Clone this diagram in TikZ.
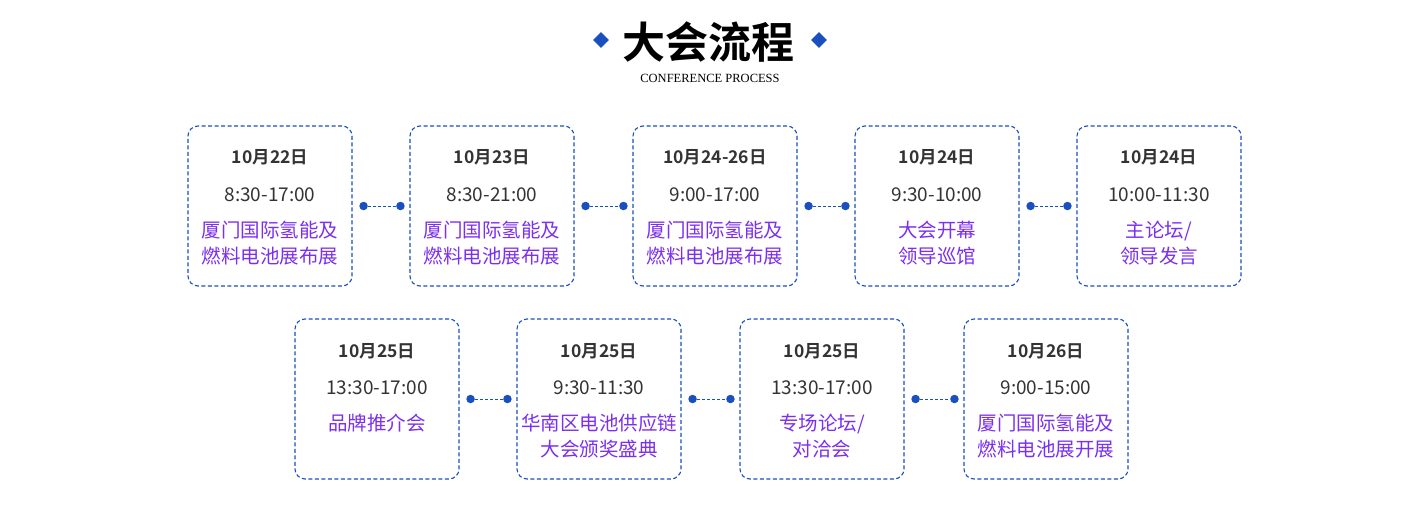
\documentclass[tikz,border=0pt]{standalone}
\usepackage{fontspec}
\setmainfont{Liberation Serif}
\newfontfamily\cjk{Noto Sans CJK SC}
\newfontfamily\cjkbold{Noto Sans CJK SC Bold}
\usetikzlibrary{positioning}
\definecolor{dotblue}{HTML}{1A4FBF}
\definecolor{eventviolet}{HTML}{7B2FF0}
\definecolor{textgray}{HTML}{333333}
\tikzset{day box/.style={draw=dotblue, line width=1.1pt, dash pattern=on 4pt off 2.5pt, rounded corners=10pt, minimum width=164pt, minimum height=160pt},
  date/.style={font=\cjkbold\fontsize{17.5}{17.5}\selectfont, text=textgray},
  time/.style={font=\cjk\fontsize{19}{19}\selectfont, text=textgray},
  event/.style={font=\cjk\fontsize{19.5}{26}\selectfont, text=eventviolet, align=center},
  dot/.style={circle, fill=dotblue, inner sep=0pt, minimum size=8.5pt},}

\begin{document}
\begin{tikzpicture}[x=1pt, y=-1pt]
        \useasboundingbox (0,0) rectangle (1420,509);
        % Title
        \node[font=\cjkbold\fontsize{43}{43}\selectfont] (title) at (708,42) {大会流程};
        \node[font=\fontsize{12.5}{12.5}\selectfont, text=black] (sub) at (710,78) {CONFERENCE PROCESS};
        \node[fill=dotblue, rotate=45, minimum size=11pt, inner sep=0pt] (dl) at (601,40) {};
        \node[fill=dotblue, rotate=45, minimum size=11pt, inner sep=0pt] (dr) at (819,40) {};
        % Row 1
        \node[day box] (b1) at (270,206) {};
        \node[day box] (b2) at (492,206) {};
        \node[day box] (b3) at (715,206) {};
        \node[day box] (b4) at (937,206) {};
        \node[day box] (b5) at (1159,206) {};
        \node[date] at (270,157) {10月22日};
        \node[time] at (270,195) {8:30-17:00};
        \node[event] at (270,243) {厦门国际氢能及\\燃料电池展布展};
        \node[date] at (492,157) {10月23日};
        \node[time] at (492,195) {8:30-21:00};
        \node[event] at (492,243) {厦门国际氢能及\\燃料电池展布展};
        \node[date] at (715,157) {10月24-26日};
        \node[time] at (715,195) {9:00-17:00};
        \node[event] at (715,243) {厦门国际氢能及\\燃料电池展布展};
        \node[date] at (937,157) {10月24日};
        \node[time] at (937,195) {9:30-10:00};
        \node[event] at (937,243) {大会开幕\\领导巡馆};
        \node[date] at (1159,157) {10月24日};
        \node[time] at (1159,195) {10:00-11:30};
        \node[event] at (1159,243) {主论坛/\\领导发言};
        % Row 2
        \node[day box] (c1) at (377,399) {};
        \node[day box] (c2) at (599,399) {};
        \node[day box] (c3) at (822,399) {};
        \node[day box] (c4) at (1046,399) {};
        \node[date] at (377,351) {10月25日};
        \node[time] at (377,388) {13:30-17:00};
        \node[event] at (377,423) {品牌推介会};
        \node[date] at (599,351) {10月25日};
        \node[time] at (599,388) {9:30-11:30};
        \node[event] at (599,436) {华南区电池供应链\\大会颁奖盛典};
        \node[date] at (822,351) {10月25日};
        \node[time] at (822,388) {13:30-17:00};
        \node[event] at (822,436) {专场论坛/\\对洽会};
        \node[date] at (1046,351) {10月26日};
        \node[time] at (1046,388) {9:00-15:00};
        \node[event] at (1046,436) {厦门国际氢能及\\燃料电池展开展};
        % Links
        \foreach \a/\b in {b1/b2, b2/b3, b3/b4, b4/b5, c1/c2, c2/c3, c3/c4} {
          \node[dot] (\a-out) at ([xshift=11pt]\a.east) {};
          \node[dot] (\b-in) at ([xshift=-9pt]\b.west) {};
          \draw[dotblue, line width=1pt, dash pattern=on 3pt off 2pt] (\a-out) -- (\b-in);
        }
    \end{tikzpicture}
\end{document}
